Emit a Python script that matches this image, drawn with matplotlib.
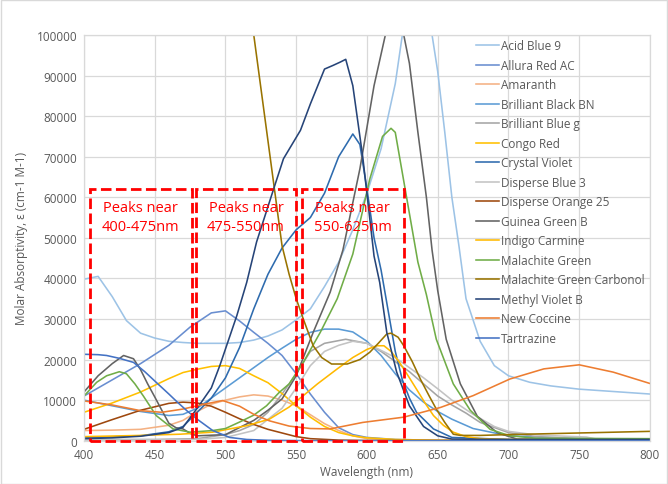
import matplotlib
matplotlib.use('Agg')
import matplotlib.pyplot as plt
from matplotlib.patches import Rectangle

plt.rcParams['font.family'] = ['Open Sans', 'DejaVu Sans']

# --- series data (wavelength nm, molar absorptivity) ---
acid_blue_9_x = [400, 410, 420, 430, 440, 450, 460, 470, 480, 490, 500, 510, 520, 530, 540, 550, 560, 570, 580,
                 590, 600, 610, 620, 630, 636, 642, 646, 650, 655, 660, 665, 670, 680, 690, 700, 715, 730, 750, 775, 800]
acid_blue_9_y = [39800, 40500, 35500, 29600, 26500, 25300, 24500, 24200, 24000, 24000, 24000, 24200, 24800, 25800,
                 27300, 29800, 32500, 38000, 44000, 52000, 61000, 72000, 88000, 112000, 122000, 112000, 100000,
                 91000, 76000, 60000, 48000, 35000, 24500, 18500, 16000, 14400, 13500, 12700, 12100, 11500]

allura_x = [400, 420, 440, 460, 475, 490, 500, 510, 520, 530, 540, 550, 560, 570, 580, 590, 600, 620, 650, 800]
allura_y = [11000, 15000, 19000, 23500, 28000, 31500, 32000, 29500, 26700, 24000, 21000, 16500, 11500, 7000,
            3200, 1500, 800, 300, 100, 0]

amaranth_x = [400, 420, 440, 460, 470, 480, 490, 500, 510, 520, 530, 540, 550, 560, 570, 580, 590, 600, 620, 650, 800]
amaranth_y = [2500, 2600, 2800, 3800, 5000, 7200, 9000, 10000, 10800, 11300, 11000, 10000, 8600, 6400, 4200,
              2500, 1200, 500, 200, 100, 0]

black_bn_x = [400, 420, 440, 460, 470, 480, 490, 500, 510, 520, 530, 540, 550, 560, 570, 580, 590, 600, 610,
              620, 630, 640, 650, 660, 675, 700, 750, 800]
black_bn_y = [10000, 8600, 7200, 6200, 6500, 8000, 10500, 13000, 15500, 18000, 20500, 22800, 25000, 26700,
              27500, 27500, 26800, 24500, 21000, 16500, 12500, 9500, 7200, 5300, 3000, 1200, 500, 400]

blue_g_x = [400, 450, 480, 500, 510, 520, 530, 540, 550, 560, 570, 585, 600, 610, 620, 630, 640, 650, 660, 670,
            680, 700, 720, 750, 800]
blue_g_y = [300, 300, 500, 1500, 2500, 4000, 7000, 11500, 16500, 22000, 24000, 25000, 24000, 22000, 19500,
            17000, 14000, 11000, 8800, 6800, 4500, 2000, 1000, 500, 300]

congo_x = [400, 420, 440, 460, 470, 480, 490, 500, 510, 520, 530, 540, 550, 560, 570, 580, 590, 600, 620, 650, 800]
congo_y = [7000, 9300, 12000, 15300, 16800, 17600, 18300, 18500, 17800, 16000, 14300, 11600, 8600, 5800, 3500,
           2000, 1200, 700, 300, 100, 0]

crystal_x = [400, 440, 460, 470, 480, 490, 500, 510, 520, 530, 540, 550, 560, 570, 580, 590, 595, 600, 605, 610,
             615, 620, 625, 630, 635, 647, 660, 700, 800]
crystal_y = [700, 1200, 2200, 3500, 7000, 10500, 15500, 23000, 32500, 41000, 47500, 52000, 55000, 61000, 70000,
             75600, 73000, 62000, 50000, 42000, 32000, 22000, 15000, 10500, 7000, 2900, 800, 300, 300]

disp_blue_x = [400, 450, 480, 500, 520, 540, 550, 560, 570, 580, 590, 600, 620, 640, 650, 660, 675, 690, 700,
               720, 740, 755, 765, 800]
disp_blue_y = [200, 200, 300, 800, 2500, 8000, 13000, 18500, 22000, 23500, 24500, 24000, 20500, 15500, 12800,
               10000, 6500, 3500, 2300, 1400, 1100, 900, 200, 200]

disp_orange_x = [400, 420, 440, 460, 470, 480, 490, 500, 510, 520, 530, 540, 550, 560, 580, 600, 800]
disp_orange_y = [2800, 5200, 7500, 9200, 9500, 9300, 8500, 7000, 5400, 4000, 2800, 1900, 1000, 500, 150, 50, 0]

guinea_x = [400, 410, 420, 428, 435, 440, 445, 450, 455, 460, 465, 470, 475, 480, 500, 520, 530, 540, 550, 562,
            574, 583, 595, 605, 613, 619, 626, 630, 636, 642, 646, 650, 656, 666, 678, 692, 706, 800]
guinea_y = [12000, 16000, 19000, 21000, 20200, 17500, 14000, 10800, 7500, 4300, 3200, 2900, 1800, 1200, 1500,
            5000, 7500, 10300, 16000, 26700, 36600, 47000, 67000, 87500, 100000, 108000, 100000, 93000, 76000,
            60000, 47000, 37000, 25000, 14000, 6000, 2000, 400, 300]

indigo_x = [400, 440, 468, 491, 515, 531, 545, 555, 565, 579, 590, 600, 607, 612, 617, 623, 630, 635, 641, 647,
            654, 661, 670, 680, 700, 800]
indigo_y = [1000, 1300, 1600, 2100, 3700, 5300, 8300, 11100, 14000, 17700, 20500, 22500, 23400, 23400, 22000,
            19300, 15500, 12700, 9300, 6200, 3800, 2100, 1000, 500, 300, 200]

malachite_x = [400, 409, 416, 425, 430, 436, 442, 451, 463, 475, 491, 500, 510, 520, 529, 538, 545, 555, 567, 579,
               590, 602, 611, 617, 620, 626, 632, 636, 642, 649, 661, 673, 687, 701, 720, 800]
malachite_y = [11000, 14400, 16000, 17000, 16500, 14000, 11000, 6200, 2900, 2100, 2500, 3000, 4600, 6300, 8600,
               11900, 14000, 19300, 26700, 35000, 46000, 64500, 75000, 77000, 76000, 64000, 52000, 44000, 36000,
               25000, 14000, 7500, 2800, 1200, 600, 500]

carbonol_x = [510, 520, 530, 540, 545, 550, 555, 562, 568, 575, 586, 595, 602, 608, 614, 617, 622, 626, 632, 638,
              644, 649, 655, 661, 666, 680, 700, 750, 800]
carbonol_y = [126000, 100000, 74000, 48000, 41000, 35000, 30000, 23400, 20500, 18900, 18900, 20000, 21800, 24000,
              26300, 26500, 25500, 23400, 19500, 15000, 11000, 7800, 4500, 1600, 1300, 1300, 1500, 1900, 2300]

methyl_x = [400, 420, 440, 460, 470, 480, 490, 496, 508, 515, 522, 534, 541, 553, 560, 570, 576, 581, 585, 590,
            597, 605, 609, 614, 621, 630, 640, 650, 660, 700, 800]
methyl_y = [500, 700, 1100, 2000, 3300, 8000, 13000, 18500, 30800, 39000, 49000, 62000, 69500, 76500, 83000,
            91600, 92500, 93300, 94000, 87500, 70000, 45500, 39000, 26700, 16900, 8600, 3500, 1200, 400, 300, 300]

coccine_x = [400, 420, 440, 455, 470, 485, 498, 510, 520, 531, 545, 560, 574, 597, 626, 652, 675, 701, 725, 750,
             774, 800]
coccine_y = [9800, 8800, 7400, 7000, 7800, 9000, 9900, 8500, 6500, 4900, 3600, 3000, 2900, 4500, 5800, 8200,
             11100, 15200, 17700, 18700, 16900, 14100]

tartrazine_x = [400, 410, 416, 425, 435, 443, 451, 460, 466, 473, 480, 491, 503, 515, 530, 560, 800]
tartrazine_y = [21300, 21200, 21000, 20300, 19300, 17000, 14400, 11500, 9500, 7300, 5300, 2500, 800, 300, 100,
                0, 0]

series = [
    ('Acid Blue 9', acid_blue_9_x, acid_blue_9_y, '#9DC3E6'),
    ('Allura Red AC', allura_x, allura_y, '#698ED0'),
    ('Amaranth', amaranth_x, amaranth_y, '#F4B183'),
    ('Brilliant Black BN', black_bn_x, black_bn_y, '#5B9BD5'),
    ('Brilliant Blue g', blue_g_x, blue_g_y, '#A5A5A5'),
    ('Congo Red', congo_x, congo_y, '#FFC000'),
    ('Crystal Violet', crystal_x, crystal_y, '#2E6BAE'),
    ('Disperse Blue 3', disp_blue_x, disp_blue_y, '#C3C3C3'),
    ('Disperse Orange 25', disp_orange_x, disp_orange_y, '#9E480E'),
    ('Guinea Green B', guinea_x, guinea_y, '#636363'),
    ('Indigo Carmine', indigo_x, indigo_y, '#FFB900'),
    ('Malachite Green', malachite_x, malachite_y, '#70AD47'),
    ('Malachite Green Carbonol', carbonol_x, carbonol_y, '#997300'),
    ('Methyl Violet B', methyl_x, methyl_y, '#264478'),
    ('New Coccine', coccine_x, coccine_y, '#ED7D31'),
    ('Tartrazine', tartrazine_x, tartrazine_y, '#4472C4'),
]

# highlighted regions (nm range) and their labels
regions = [(404, 476, 'Peaks near\n400-475nm'),
           (479, 550, 'Peaks near\n475-550nm'),
           (554, 626, 'Peaks near\n550-625nm')]
region_top = 62000

grey = '#595959'
grid = '#D9D9D9'

fig = plt.figure(figsize=(6.68, 4.85), dpi=100)
ax = fig.add_axes([0.1257, 0.0893, 0.8473, 0.8365])

for name, x, y, c in series:
    ax.plot(x, y, color=c, lw=1.15, label=name)

for x0, x1, txt in regions:
    ax.add_patch(Rectangle((x0, 0), x1 - x0, region_top, fill=False, edgecolor='#FF0000',
                           lw=2.0, linestyle=(0, (3.8, 1.6)), zorder=5, clip_on=False))
    ax.text((x0 + x1) / 2, region_top - 6800, txt, color='#FF0000', fontsize=10.5,
            ha='center', va='center', linespacing=1.4, zorder=6)

ax.set_xlim(400, 800)
ax.set_ylim(0, 100000)
ax.set_xticks(range(400, 801, 50))
ax.set_yticks(range(0, 100001, 10000))
ax.grid(True, color=grid, lw=0.9)
ax.set_axisbelow(True)
for s in ax.spines.values():
    s.set_color(grid)
    s.set_linewidth(0.9)
ax.tick_params(length=0, labelsize=8.5, labelcolor=grey, pad=5)
ax.set_xlabel('Wavelength (nm)', fontsize=8.5, color=grey, labelpad=3)
ax.set_ylabel('Molar Absorptivity, ε (cm-1 M-1)', fontsize=8.5, color=grey, labelpad=6)

leg = ax.legend(loc='upper left', bbox_to_anchor=(0.688, 0.995), frameon=False, fontsize=8.5,
                handlelength=2.0, handletextpad=0.1, labelspacing=0.55, borderpad=0.2, borderaxespad=0)
for t in leg.get_texts():
    t.set_color(grey)

fig.add_artist(Rectangle((0.001, 0.001), 0.997, 0.997, transform=fig.transFigure, fill=False,
                         edgecolor=grid, lw=1.0))

plt.savefig('out.png', dpi=100)
